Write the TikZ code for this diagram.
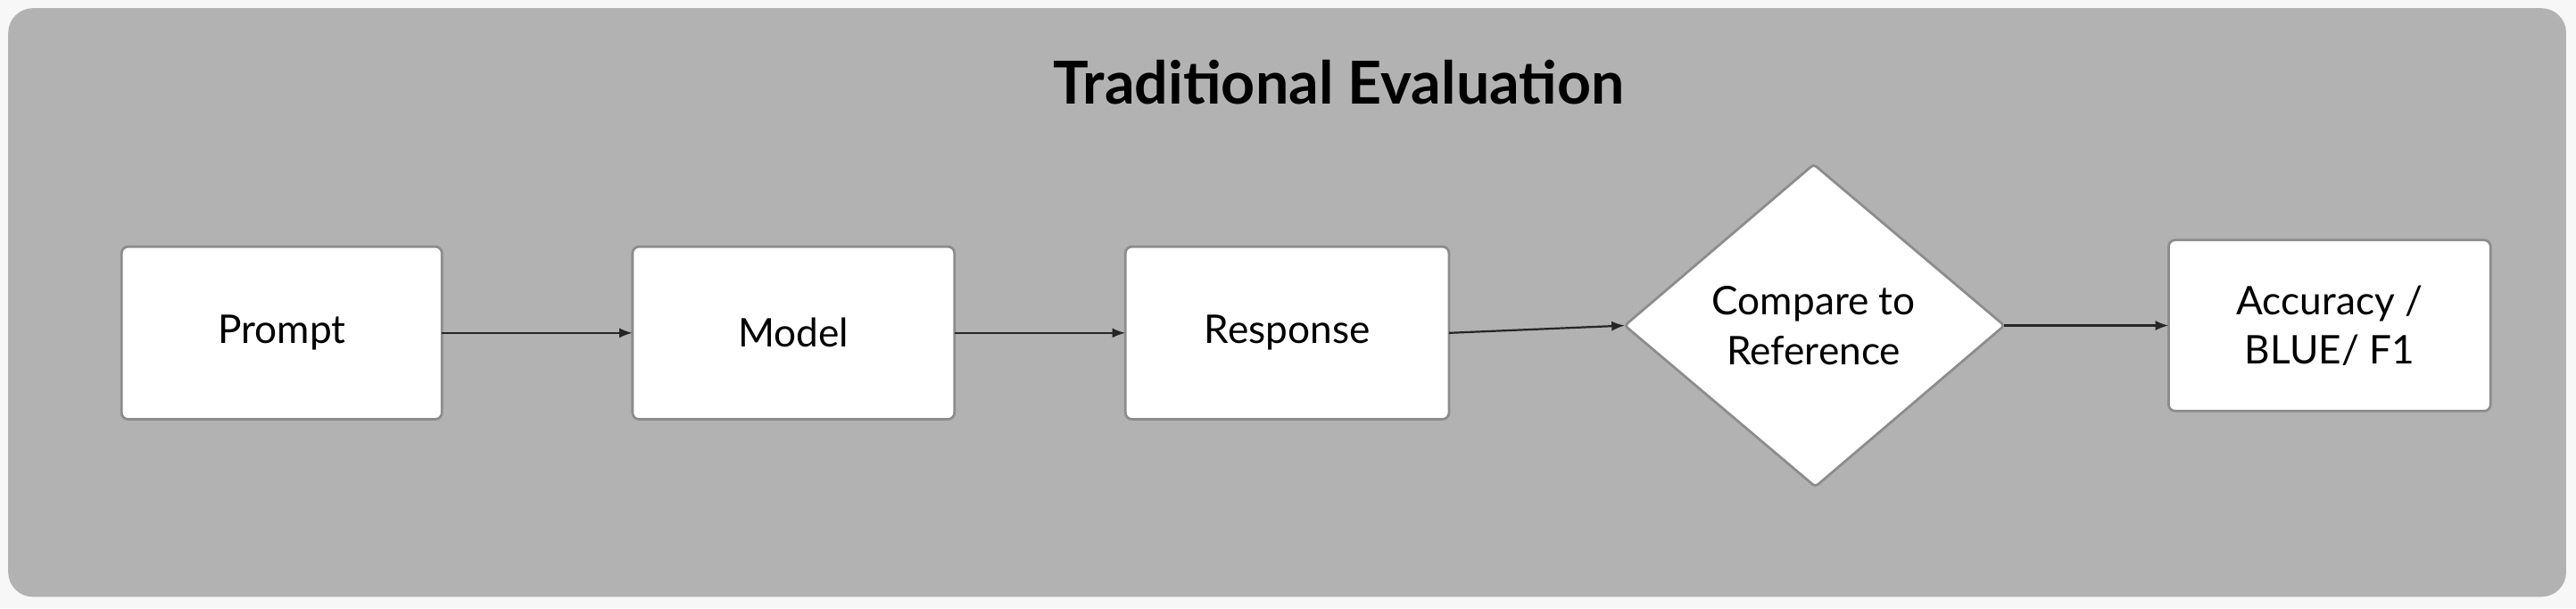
\documentclass[tikz,border=0pt]{standalone}
\usepackage{fontspec}
\setmainfont{Lato}
\usetikzlibrary{arrows.meta}
\begin{document}
\begin{tikzpicture}[x=1pt,y=-1pt,
  box/.style={draw=black!45,line width=1.5pt,fill=white,rounded corners=4pt},
  lbl/.style={font=\fontsize{24}{30}\selectfont,align=center},
  conn/.style={draw=black!85,line width=1.2pt,-{Latex[length=8pt,width=6pt]}}]
\fill[black!3] (0,0) rectangle (1568,370);
\useasboundingbox (0,0) rectangle (1568,370);
\fill[black!30,rounded corners=15pt] (5,5) rectangle (1562,363);
\node[font=\fontsize{36}{40}\selectfont\bfseries] (title) at (815,50) {Traditional Evaluation};
\draw[box] (74,150) rectangle (269,255);
\node[lbl] (prompt) at (171.5,202.5) {Prompt};
\draw[box] (385,150) rectangle (581,255);
\node[lbl] (model) at (483,202.5) {Model};
\draw[box] (685,150) rectangle (882,255);
\node[lbl] (resp) at (783.5,202.5) {Response};
\draw[box,rounded corners=2pt] (989,198) -- (1104,100) -- (1220,198) -- (1105,296) -- cycle;
\node[lbl] (cmp) at (1104,198) {Compare to\\Reference};
\draw[box] (1320,146) rectangle (1516,250);
\node[lbl] (acc) at (1418,198) {Accuracy /\\BLUE/ F1};
\coordinate (pr) at (269,202.5); \coordinate (ml) at (385,202.5);
\coordinate (mr) at (581,202.5); \coordinate (rl) at (685,202.5);
\coordinate (rr) at (882,202.5); \coordinate (cl) at (989,198);
\coordinate (cr) at (1220,198); \coordinate (al) at (1320,198);
\draw[conn] (pr) -- (ml);
\draw[conn] (mr) -- (rl);
\draw[conn] (rr) -- (cl);
\draw[conn] (cr) -- (al);
\end{tikzpicture}
\end{document}
